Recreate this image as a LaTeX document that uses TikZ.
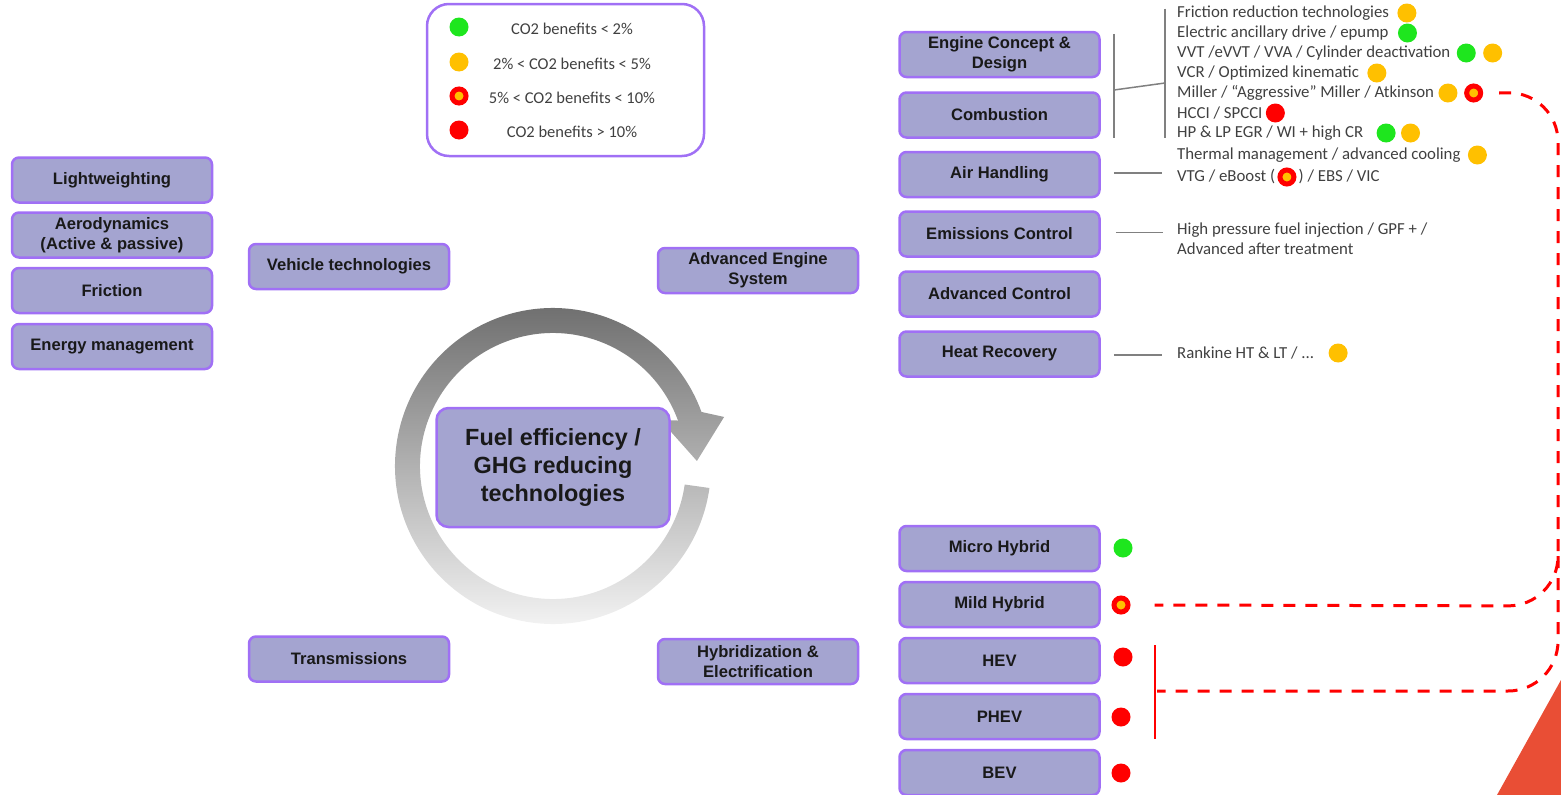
\documentclass[tikz,border=0pt]{standalone}
\usepackage{fontspec}
\setmainfont{Liberation Sans}
\newfontfamily\calibri{Carlito}
\usetikzlibrary{calc, positioning}

\definecolor{boxfill}{RGB}{164,164,208}
\definecolor{boxline}{RGB}{160,112,245}
\definecolor{co2green}{RGB}{30,230,30}
\definecolor{co2orange}{RGB}{255,192,0}
\definecolor{co2red}{RGB}{255,0,0}
\definecolor{textgrey}{RGB}{64,64,64}
\definecolor{linegrey}{RGB}{128,128,128}
\definecolor{ringdark}{RGB}{108,108,108}
\definecolor{ringlight}{RGB}{246,246,246}
\definecolor{cornerred}{RGB}{233,78,53}

\begin{document}
\begin{tikzpicture}[x=1pt, y=-1pt,
  techbox/.style={draw=boxline, fill=boxfill, line width=2.5pt, rounded corners=7pt,
    minimum width=200pt, minimum height=45pt, inner sep=2pt, align=center,
    text=black!90, font=\bfseries\fontsize{16.6}{20}\selectfont},
  co2dot/.style={circle, inner sep=0pt, minimum size=19pt},
  greendot/.style={co2dot, fill=co2green},
  orangedot/.style={co2dot, fill=co2orange},
  reddot/.style={co2dot, fill=co2red},
  ringdot/.style={circle, inner sep=0pt, minimum size=14pt, fill=co2orange, draw=co2red, line width=5pt},
  item/.style={anchor=west, inner sep=0pt, text=textgrey, font=\calibri\fontsize{16.8}{20.3}\selectfont, align=left},
  legendtext/.style={inner sep=0pt, text=textgrey, font=\calibri\fontsize{16.5}{18}\selectfont},
  greyline/.style={draw=linegrey, line width=1.5pt},
  reddash/.style={draw=co2red, line width=3pt, dash pattern=on 12pt off 10pt}]
\useasboundingbox (0,0) rectangle (1561,795);
\coordinate (ring) at (553,466);
% Circular arrow behind the centre box
\shade[top color=ringdark, bottom color=ringlight]
  ([shift={(8:158)}]ring) arc[start angle=8, end angle=340, radius=158]
  -- ([shift={(344:178)}]ring) -- ([shift={(358:144)}]ring) -- ([shift={(337:117)}]ring)
  -- ([shift={(340:133)}]ring) arc[start angle=340, end angle=8, radius=133] -- cycle;
\node[techbox, minimum width=233pt, minimum height=119pt, rounded corners=12pt,
  font=\bfseries\fontsize{23.4}{28}\selectfont] (fuel) at (553,467.5) {Fuel efficiency /\\GHG reducing\\technologies};
% Legend
\node[draw=boxline, line width=2.5pt, rounded corners=22pt, minimum width=277pt, minimum height=152pt] (legend) at (565.5,80) {};
\node[greendot] (lg1) at (459,27) {};
\node[legendtext] at (572,29) {CO2 benefits < 2\%};
\node[orangedot] (lg2) at (459,62) {};
\node[legendtext] at (572,64) {2\% < CO2 benefits < 5\%};
\node[ringdot] (lg3) at (459,96) {};
\node[legendtext] at (572,98) {5\% < CO2 benefits < 10\%};
\node[reddot] (lg4) at (459,130) {};
\node[legendtext] at (572,132) {CO2 benefits > 10\%};
% Vehicle technologies
\node[techbox] (light) at (112,180) {Lightweighting};
\node[techbox] (aero) at (112,235) {Aerodynamics\\(Active \& passive)};
\node[techbox] (fricbox) at (112,290.5) {Friction};
\node[techbox] (energy) at (112,346.5) {Energy management};
\node[techbox] (vehicle) at (349,266.5) {Vehicle technologies};
\node[techbox] (trans) at (349,659) {Transmissions};
\node[techbox] (engsys) at (758,270.5) {Advanced Engine\\System};
\node[techbox] (hybrid) at (758,661.5) {Hybridization \&\\Electrification};
% Engine column
\node[techbox] (concept) at (999.5,54.5) {Engine Concept \&\\Design};
\node[techbox] (comb) at (999.5,115) {Combustion};
\node[techbox] (air) at (999.5,174.5) {Air Handling};
\node[techbox] (emis) at (999.5,234) {Emissions Control};
\node[techbox] (advc) at (999.5,294) {Advanced Control};
\node[techbox] (heat) at (999.5,354) {Heat Recovery};
% Engine technologies and their benefits
\node[item] (fric) at (1177,13) {Friction reduction technologies};
\node[orangedot, right=8pt of fric] (fricdot) {};
\node[item] (eadrive) at (1177,33) {Electric ancillary drive / epump};
\node[greendot, right=9pt of eadrive] (eadot) {};
\node[item] (vvt) at (1177,53) {VVT /eVVT / VVA / Cylinder deactivation};
\node[greendot, right=6pt of vvt] (vvtdot1) {};
\node[orangedot, right=7pt of vvtdot1] (vvtdot2) {};
\node[item] (vcr) at (1177,73) {VCR / Optimized kinematic};
\node[orangedot, right=8pt of vcr] (vcrdot) {};
\node[item] (miller) at (1177,93) {Miller / “Aggressive” Miller / Atkinson};
\node[orangedot, right=4pt of miller] (millerdot1) {};
\node[ringdot, right=6.5pt of millerdot1] (millerdot2) {};
\node[item] (hcci) at (1177,113) {HCCI / SPCCI};
\node[reddot, right=3pt of hcci] (hccidot) {};
\node[item] (egr) at (1177,133) {HP \& LP EGR / WI + high CR};
\node[greendot, right=13pt of egr] (egrdot1) {};
\node[orangedot, right=5pt of egrdot1] (egrdot2) {};
\node[item] (thermal) at (1177,155) {Thermal management / advanced cooling};
\node[orangedot, right=7pt of thermal] (thermdot) {};
\node[item] (vtg) at (1177,177) {VTG / eBoost (};
\node[ringdot, right=2pt of vtg] (vtgdot) {};
\node[item, right=2pt of vtgdot] (vtgend) {) / EBS / VIC};
\node[item] (hpfi) at (1177,239) {High pressure fuel injection / GPF + /\\Advanced after treatment};
\node[item] (rankine) at (1177,353) {Rankine HT \& LT / ...};
\node[orangedot, right=14pt of rankine] (rankdot) {};
% Grey brackets
\coordinate (brl) at (1114,90);
\coordinate (brr) at (1165,83);
\draw[greyline] ([xshift=13pt,yshift=-3pt]concept.north east) -- ([xshift=13pt,yshift=1pt]comb.south east);
\draw[greyline] ([xshift=-12pt,yshift=-3pt]fric.north west) -- ([xshift=-12pt,yshift=2pt]egr.south west);
\draw[greyline] (brl) -- (brr);
\draw[greyline] ([xshift=13pt,yshift=1.5pt]air.east) -- ([xshift=-15pt,yshift=1.5pt]air.east -| vtg.west);
\draw[greyline] ([xshift=15pt,yshift=1.5pt]emis.east) -- ([xshift=-14pt,yshift=1.5pt]emis.east -| hpfi.west);
\draw[greyline] ([xshift=13pt,yshift=-1pt]heat.east) -- ([xshift=-15pt,yshift=-1pt]heat.east -| rankine.west);
% Hybrid column
\node[techbox] (micro) at (999.5,548.5) {Micro Hybrid};
\node[techbox] (mild) at (999.5,604.5) {Mild Hybrid};
\node[techbox] (hev) at (999.5,660.5) {HEV};
\node[techbox] (phev) at (999.5,716.5) {PHEV};
\node[techbox] (bev) at (999.5,772.5) {BEV};
\node[greendot] (microdot) at (1123,548) {};
\node[ringdot] (milddot) at (1121,605) {};
\node[reddot] (hevdot) at (1123,657) {};
\node[reddot] (phevdot) at (1121,717) {};
\node[reddot] (bevdot) at (1121,773) {};
% Red links
\coordinate (hevtop) at (1155,645);
\coordinate (hevmid) at (1155,691);
\coordinate (hevbot) at (1155,739);
\coordinate (split) at (1558,556);
\draw[co2red, line width=2.5pt] (hevtop) -- (hevbot);
\draw[reddash, rounded corners=50pt] ([xshift=16pt]millerdot2.east) -- (1558,92) -- (1558,606) -- ([xshift=24pt]milddot.east);
\draw[reddash, rounded corners=50pt] (split) -- (1558,691) -- ([xshift=2pt]hevmid);
% Corner triangle
\fill[cornerred] (1497,795) -- (1561,680) -- (1561,795) -- cycle;
\end{tikzpicture}
\end{document}
